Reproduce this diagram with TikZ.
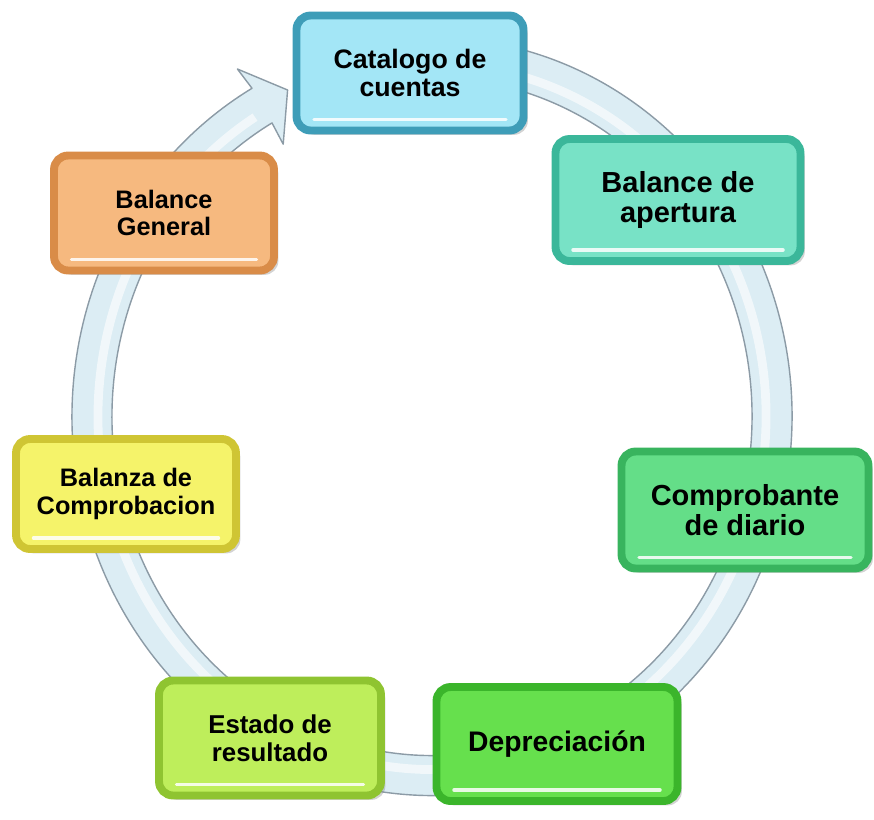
\documentclass[tikz,border=0pt]{standalone}
\usepackage{fontspec}
\setsansfont{Liberation Sans}
\usetikzlibrary{calc, shadows}

\definecolor{ringfill}{HTML}{DCEDF4}
\definecolor{ringedge}{HTML}{8C9BA6}
\definecolor{catface}{HTML}{A3E6F6}
\definecolor{catrim}{HTML}{3E9DB8}
\definecolor{aperface}{HTML}{78E2C6}
\definecolor{aperrim}{HTML}{3BB79A}
\definecolor{compface}{HTML}{64DE88}
\definecolor{comprim}{HTML}{38B45E}
\definecolor{depface}{HTML}{66E04D}
\definecolor{deprim}{HTML}{3BB52B}
\definecolor{estface}{HTML}{BEEE5B}
\definecolor{estrim}{HTML}{8FC431}
\definecolor{balzface}{HTML}{F5F36A}
\definecolor{balzrim}{HTML}{CFC534}
\definecolor{genface}{HTML}{F6B97F}
\definecolor{genrim}{HTML}{D98C48}

\tikzset{
  stage/.style={rectangle, rounded corners=8pt, line width=4.5pt,
    align=center, font=\sffamily\bfseries\fontsize{16.5}{17.5}\selectfont,
    drop shadow={shadow xshift=2.5pt, shadow yshift=-2.5pt, opacity=.35},
    path picture={
      \draw[white, line width=2pt, line cap=round, opacity=.85]
        ([shift={(0.35cm,0.22cm)}]path picture bounding box.south west) --
        ([shift={(-0.35cm,0.22cm)}]path picture bounding box.south east);
    }},
  stagetext/.style 2 args={font=\sffamily\bfseries\fontsize{#1}{#2}\selectfont},
}

\begin{document}
\begin{tikzpicture}[x=0.02cm, y=-0.02cm]
  \useasboundingbox (0,0) rectangle (874,819);

  % the cycle ring with its arrow head
  \coordinate (ctr) at (432,416.5);
  \coordinate (wingout) at (237.4,69);
  \coordinate (tip) at (287.6,90);
  \coordinate (wingin) at (283.2,144.2);
  \filldraw[fill=ringfill, draw=ringedge, line width=0.8pt, line join=round]
    ($(ctr)+(-80:360 and 379)$)
      arc[start angle=-80, end angle=240, x radius=360, y radius=379]
    -- (wingout) -- (tip) -- (wingin)
    -- ($(ctr)+(240:320 and 339)$)
      arc[start angle=240, end angle=-80, x radius=320, y radius=339]
    -- cycle;
  \draw[white, opacity=.6, line width=5pt]
    ($(ctr)+(-80:334 and 353)$)
      arc[start angle=-80, end angle=238, x radius=334, y radius=353];

  % stages of the cycle
  \node[stage, stagetext={15.2}{16.3}, fill=catface, draw=catrim,
    minimum width=4.54cm, minimum height=2.3cm]
    (catalogo) at (410,73) {Catalogo de\\cuentas};
  \node[stage, fill=aperface, draw=aperrim, minimum width=4.9cm, minimum height=2.44cm]
    (apertura) at (678,200) {Balance de\\apertura};
  \node[stage, fill=compface, draw=comprim, minimum width=4.94cm, minimum height=2.34cm]
    (diario) at (745,510) {Comprobante\\de diario};
  \node[stage, stagetext={16.1}{17}, fill=depface, draw=deprim,
    minimum width=4.82cm, minimum height=2.28cm]
    (depreciacion) at (557,744) {Depreciación};
  \node[stage, stagetext={14.7}{15.8}, fill=estface, draw=estrim,
    minimum width=4.44cm, minimum height=2.3cm]
    (resultado) at (270,738) {Estado de\\resultado};
  \node[stage, stagetext={14.4}{15.6}, fill=balzface, draw=balzrim,
    minimum width=4.4cm, minimum height=2.2cm]
    (balanza) at (126,494) {Balanza de\\Comprobacion};
  \node[stage, stagetext={14.4}{15.8}, fill=genface, draw=genrim,
    minimum width=4.4cm, minimum height=2.3cm]
    (general) at (164,213) {Balance\\General};
\end{tikzpicture}
\end{document}
